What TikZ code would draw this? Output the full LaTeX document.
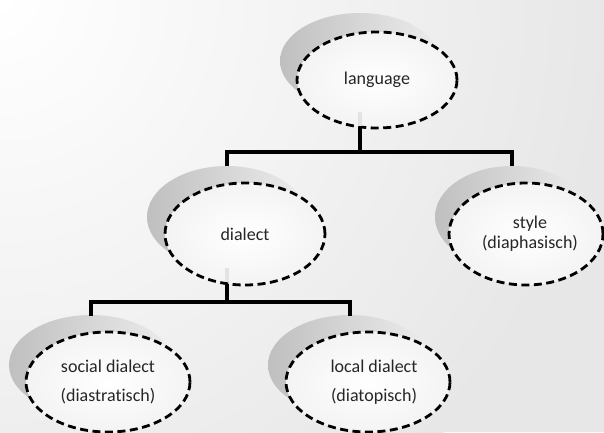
\documentclass[tikz,border=0pt]{standalone}
\usepackage{fontspec}
\setmainfont{Carlito}[Ligatures=NoCommon]
\usetikzlibrary{shapes.geometric}
\tikzset{
  bubble/.style={ellipse, draw=black, line width=2.8pt, dash pattern=on 8pt off 4.5pt,
    inner color=white, outer color=gray!9, align=center, text=black!85, inner sep=0pt},
  backdrop/.style={ellipse, draw=none, left color=gray!50, right color=gray!14, inner sep=0pt},
  link/.style={line width=3.6pt, black},
  stub/.style={line width=3.6pt, gray!22},
  onefont/.style={font=\fontsize{18}{20}\selectfont},
  twofont/.style={font=\fontsize{18}{29}\selectfont}
}
\begin{document}
\begin{tikzpicture}[x=1pt, y=-1pt]
  \useasboundingbox (0,0) rectangle (604,432);
  % backdrop: pale grey, brightening towards the upper left
  \fill[gray!19] (0,0) rectangle (604,432);
  \begin{scope}
    \clip (0,0) rectangle (604,432);
    \shade[inner color=white, outer color=gray!19] (0,0) circle (620);
  \end{scope}

  % junction points of the tree
  \coordinate (j1) at (360,152);
  \coordinate (j2) at (227,302);

  % shadow ellipses (also the anchor points of the connectors)
  \node[backdrop, minimum width=160pt, minimum height=96pt]  (sh-lang) at (360,61)  {};
  \node[backdrop, minimum width=160pt, minimum height=102pt] (sh-dia)  at (227,217) {};
  \node[backdrop, minimum width=154pt, minimum height=102pt] (sh-sty)  at (512,217) {};
  \node[backdrop, minimum width=164pt, minimum height=100pt] (sh-soc)  at (91,365)  {};
  \node[backdrop, minimum width=164pt, minimum height=100pt] (sh-loc)  at (350,365) {};

  % connectors, drawn before the dashed ellipses so those sit on top
  \draw[link] (sh-lang.center |- 0,126) -- (j1);
  \draw[link] (sh-dia.center |- 0,166) |- (j1) -| (sh-sty.center |- 0,166);
  \draw[link] (sh-dia.center |- 0,282) -- (j2);
  \draw[link] (sh-soc.center |- 0,316) |- (j2) -| (sh-loc.center |- 0,316);

  % main dashed ellipses
  \node[bubble, onefont, minimum width=160pt, minimum height=96pt]  (lang) at (377,80)  {language};
  \node[bubble, onefont, minimum width=160pt, minimum height=102pt] (dia)  at (245,234) {dialect};
  \node[bubble, onefont, minimum width=154pt, minimum height=102pt] (sty)  at (526,234) {\hspace*{8pt}style\\\hspace*{8pt}(diaphasisch)};
  \node[bubble, twofont, minimum width=164pt, minimum height=100pt] (soc)  at (108,382) {social dialect\\(diastratisch)};
  \node[bubble, twofont, minimum width=164pt, minimum height=100pt] (loc)  at (368,382) {\hspace*{12pt}local dialect\\\hspace*{12pt}(diatopisch)};

  % faint continuation of the connectors inside the ellipses
  \draw[stub] (sh-lang.center |- 0,112) -- (sh-lang.center |- 0,125.5);
  \draw[stub] (sh-dia.center |- 0,268) -- (sh-dia.center |- 0,282);
\end{tikzpicture}
\end{document}
